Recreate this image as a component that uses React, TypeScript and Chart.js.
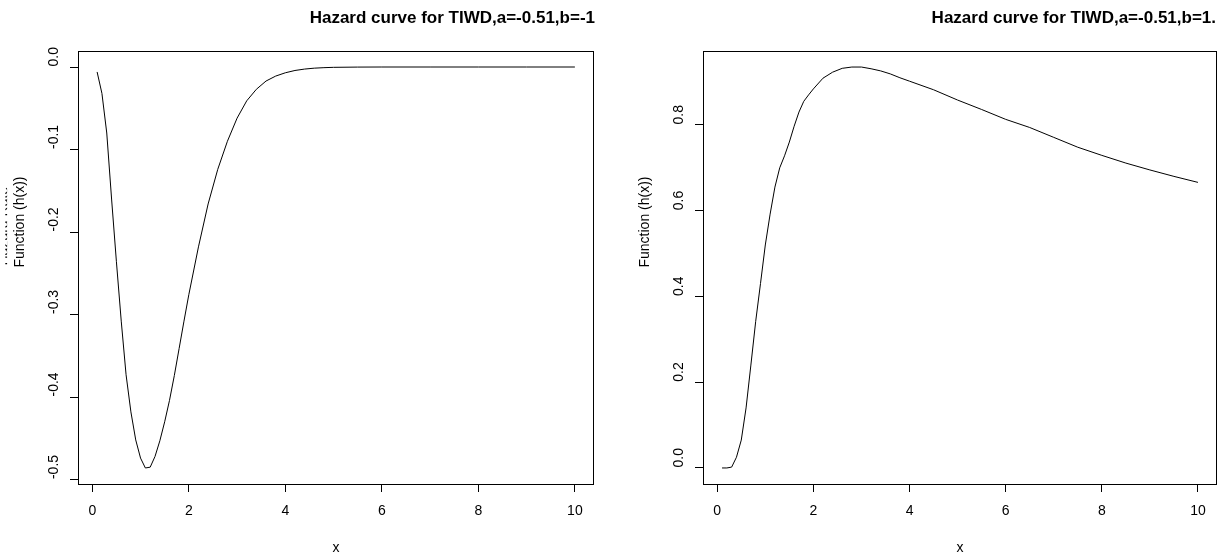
import React, { useEffect, useRef } from 'react';
import { Chart, registerables } from 'chart.js';

Chart.register(...registerables);

const FONT = '"Liberation Sans", Arial, Helvetica, sans-serif';

// ---- data ----
const leftX = [0.1, 0.2, 0.3, 0.4, 0.5, 0.6, 0.7, 0.8, 0.9, 1.0, 1.1, 1.2, 1.3, 1.4, 1.5, 1.6, 1.7, 1.8, 1.9, 2.0,
  2.2, 2.4, 2.6, 2.8, 3.0, 3.2, 3.4, 3.6, 3.8, 4.0, 4.2, 4.4, 4.6, 4.8, 5.0, 5.5, 6, 7, 8, 9, 10];
const leftY = [-0.006, -0.032, -0.080, -0.160, -0.236, -0.308, -0.373, -0.418, -0.452, -0.474, -0.486, -0.485,
  -0.472, -0.453, -0.430, -0.404, -0.374, -0.341, -0.308, -0.276, -0.218, -0.166, -0.124, -0.090, -0.062,
  -0.041, -0.027, -0.017, -0.011, -0.007, -0.0042, -0.0025, -0.0014, -0.0008, -0.0004, -0.0001, 0, 0, 0, 0, 0];

const rightX = [0.1, 0.2, 0.3, 0.4, 0.5, 0.6, 0.7, 0.8, 0.9, 1.0, 1.1, 1.2, 1.3, 1.4, 1.5, 1.6, 1.7, 1.8, 1.9, 2.0,
  2.2, 2.4, 2.6, 2.8, 3.0, 3.2, 3.4, 3.6, 3.8, 4.0, 4.5, 5.0, 5.5, 6.0, 6.5, 7.0, 7.5, 8.0, 8.5, 9.0, 9.5, 10.0];
const rightY = [0.000, 0.000, 0.002, 0.025, 0.065, 0.140, 0.240, 0.342, 0.430, 0.520, 0.592, 0.655, 0.700, 0.728,
  0.760, 0.797, 0.830, 0.855, 0.870, 0.884, 0.909, 0.923, 0.932, 0.935, 0.935, 0.931, 0.926, 0.919, 0.910, 0.902,
  0.882, 0.858, 0.836, 0.813, 0.794, 0.771, 0.748, 0.729, 0.711, 0.695, 0.680, 0.666];

const xTicks = [0, 2, 4, 6, 8, 10];
const leftYTicks = [-0.5, -0.4, -0.3, -0.2, -0.1, 0.0];
const rightYTicks = [0.0, 0.2, 0.4, 0.6, 0.8];

const xRange = [-0.296, 10.396];
const leftYRange = [-0.5054, 0.0194];
const rightYRange = [-0.0374, 0.9724];

const leftTitle = 'Hazard curve for TIWD,a=-0.51,b=-1';
const rightTitle = 'Hazard curve for TIWD,a=-0.51,b=1.';
const yLabel = 'Function (h(x))';
const yLabelHidden = 'Hazard Rate';
const xLabel = 'x';

const rPlotPlugin = {
  id: 'rPlot',
  afterDraw(chart: any, _args: any, opts: any) {
    const { ctx, chartArea: a } = chart;
    const ys = chart.scales.y;
    ctx.save();
    ctx.strokeStyle = '#000';
    ctx.lineWidth = 1;
    const l = Math.round(a.left), t = Math.round(a.top), r = Math.round(a.right), b = Math.round(a.bottom);
    ctx.strokeRect(l + 0.5, t + 0.5, r - l - 1, b - t);

    ctx.fillStyle = '#000';
    // y tick labels, rotated
    ctx.font = `14px ${FONT}`;
    for (const tk of ys.ticks) {
      const y = ys.getPixelForValue(tk.value);
      ctx.save();
      ctx.translate(a.left - 20.5, y);
      ctx.rotate(-Math.PI / 2);
      ctx.textAlign = 'left';
      ctx.textBaseline = 'alphabetic';
      ctx.fillText(Number(tk.value).toFixed(1), 0.5, 0);
      ctx.restore();
    }

    // title
    ctx.font = `bold 17px ${FONT}`;
    ctx.textAlign = 'right';
    ctx.textBaseline = 'alphabetic';
    ctx.fillText(opts.title, a.right + opts.titleShift, 23);

    // x label
    ctx.font = `14px ${FONT}`;
    ctx.textAlign = 'center';
    ctx.fillText(xLabel, (a.left + a.right) / 2, 551.5);

    // y label
    const yc = (a.top + a.bottom) / 2;
    ctx.save();
    ctx.translate(a.left - 54, yc);
    ctx.rotate(-Math.PI / 2);
    ctx.textAlign = 'left';
    ctx.fillText(yLabel, 0, 0);
    ctx.restore();

    if (opts.hiddenLine) {
      ctx.save();
      ctx.beginPath();
      ctx.rect(5.3, 0, 1.8, chart.height);
      ctx.clip();
      ctx.translate(7.6, yc - 2);
      ctx.rotate(-Math.PI / 2);
      ctx.textAlign = 'left';
      ctx.fillText(yLabelHidden, 0, 0);
      ctx.restore();
    }
    ctx.restore();
  },
};

type PanelProps = {
  width: number;
  xs: number[];
  ys: number[];
  yRange: number[];
  yTicks: number[];
  title: string;
  yAxisWidth: number;
  padRight: number;
  titleShift: number;
  hiddenLine: boolean;
};

function Panel(p: PanelProps) {
  const ref = useRef<HTMLCanvasElement | null>(null);
  useEffect(() => {
    if (!ref.current) return;
    const chart = new Chart(ref.current, {
      type: 'line',
      data: {
        datasets: [
          {
            data: p.xs.map((x, i) => ({ x, y: p.ys[i] })),
            borderColor: '#000',
            borderWidth: 1,
            pointRadius: 0,
            tension: 0,
            fill: false,
          },
        ],
      },
      options: {
        responsive: false,
        animation: false,
        events: [],
        layout: { padding: { top: 51, right: p.padRight, left: 0, bottom: 0 } },
        plugins: {
          legend: { display: false },
          title: { display: false },
          tooltip: { enabled: false },
          rPlot: { title: p.title, titleShift: p.titleShift, hiddenLine: p.hiddenLine },
        } as any,
        scales: {
          x: {
            type: 'linear',
            min: xRange[0],
            max: xRange[1],
            afterBuildTicks: (s: any) => {
              s.ticks = xTicks.map((v) => ({ value: v }));
            },
            afterFit: (s: any) => {
              s.height = 71;
            },
            ticks: {
              color: '#000',
              font: { family: FONT, size: 14 },
              padding: 11,
              maxRotation: 0,
              minRotation: 0,
              autoSkip: false,
              callback: (v: any) => String(v),
            },
            grid: { drawOnChartArea: false, drawTicks: true, tickLength: 8, color: '#000', lineWidth: 1 },
            border: { display: false },
          },
          y: {
            type: 'linear',
            min: p.yRange[0],
            max: p.yRange[1],
            afterBuildTicks: (s: any) => {
              s.ticks = p.yTicks.map((v) => ({ value: v }));
            },
            afterFit: (s: any) => {
              s.width = p.yAxisWidth;
            },
            ticks: { display: false },
            grid: { drawOnChartArea: false, drawTicks: true, tickLength: 8, color: '#000', lineWidth: 1 },
            border: { display: false },
          },
        },
      },
      plugins: [rPlotPlugin],
    } as any);
    return () => chart.destroy();
  }, []);
  return <canvas ref={ref} width={p.width} height={555} style={{ display: 'block', width: p.width, height: 555 }} />;
}

export default function App() {
  return (
    <div style={{ position: 'absolute', left: 0, top: 0, width: 1221, height: 555, background: '#fff', display: 'flex' }}>
      <Panel
        width={610}
        xs={leftX}
        ys={leftY}
        yRange={leftYRange}
        yTicks={leftYTicks}
        title={leftTitle}
        yAxisWidth={78}
        padRight={16}
        titleShift={1}
        hiddenLine={true}
      />
      <Panel
        width={611}
        xs={rightX}
        ys={rightY}
        yRange={rightYRange}
        yTicks={rightYTicks}
        title={rightTitle}
        yAxisWidth={93}
        padRight={4}
        titleShift={-1}
        hiddenLine={false}
      />
    </div>
  );
}
